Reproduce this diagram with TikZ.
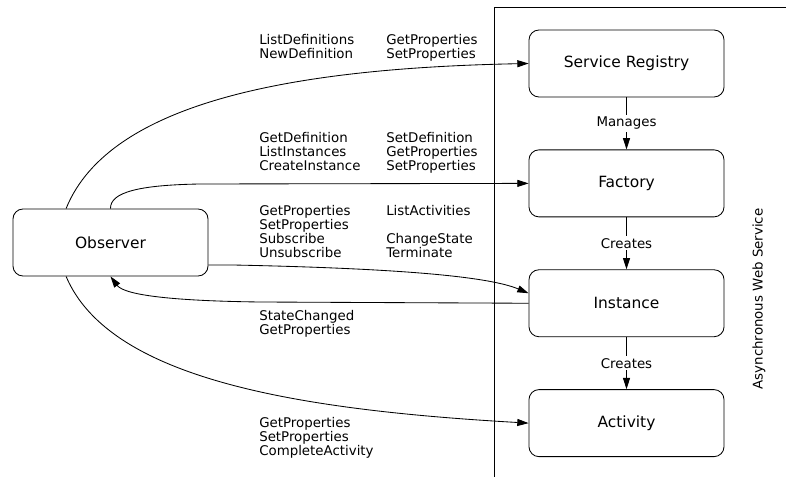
\documentclass[tikz,border=0pt]{standalone}
\usepackage{fontspec}
\setmainfont{DejaVu Sans}
\usetikzlibrary{arrows.meta,positioning}

\begin{document}
\begin{tikzpicture}[x=0.025cm,y=-0.025cm,
  box/.style={draw,line width=0.6pt,rounded corners=0.25cm,minimum width=4.875cm,minimum height=1.675cm,font=\fontsize{11}{13}\selectfont},
  ops/.style={anchor=north west,inner sep=0pt,align=left,font=\fontsize{9.5}{10}\selectfont},
  verb/.style={fill=white,inner sep=1.5pt,font=\fontsize{9.5}{10}\selectfont},
  flow/.style={line width=0.6pt,-{Triangle[length=8pt,width=5pt]}}]
\useasboundingbox (0,0) rectangle (786,477);
% service border
\draw[line width=0.6pt] (494,477) -- (494,7) -- (786,7);
\node[rotate=90,font=\fontsize{9.5}{10}\selectfont] (aws) at (759,299) {Asynchronous Web Service};
% components
\node[box] (reg) at (626.5,63.5) {Service Registry};
\node[box,below=1.3cm of reg] (fac) {Factory};
\node[box,below=1.3cm of fac] (inst) {Instance};
\node[box,below=1.3cm of inst] (act) {Activity};
\node[box] (obs) at (110.5,242.5) {Observer};
\draw[flow] (reg) -- node[verb] {Manages} (fac);
\draw[flow] (fac) -- node[verb] {Creates} (inst);
\draw[flow] (inst) -- node[verb] {Creates} (act);
% observer calls
\draw[flow] ([xshift=-1.11cm]obs.north) .. controls (110,100) and (300,68) .. (reg.west);
\draw[flow] (obs.north) .. controls (110,192) and (140,185) .. (200,184) -- (fac.west);
\draw[flow] ([yshift=-0.5625cm]obs.east) -- (233,265) .. controls (380,268) and (485,275) .. ([yshift=0.25cm]inst.west);
\draw[flow] (inst.west) -- (260,302) .. controls (180,301) and (125,296) .. (obs.south);
\draw[flow] ([xshift=-1.11cm]obs.south) .. controls (110,380) and (300,410) .. (act.west);
% operation lists
\node[ops] (regops) at (259,34) {ListDefinitions\\NewDefinition};
\node[ops] (regprops) at (386,34) {GetProperties\\SetProperties};
\node[ops] (facops) at (259,132) {GetDefinition\\ListInstances\\CreateInstance};
\node[ops] (facprops) at (386,132) {SetDefinition\\GetProperties\\SetProperties};
\node[ops] (instops) at (259,205) {GetProperties\\SetProperties\\Subscribe\\Unsubscribe};
\node[ops] (instacts) at (386,205) {ListActivities\\[10pt]ChangeState\\Terminate};
\node[ops] (events) at (259,310) {StateChanged\\GetProperties};
\node[ops] (actops) at (259,417) {GetProperties\\SetProperties\\CompleteActivity};
\end{tikzpicture}
\end{document}
